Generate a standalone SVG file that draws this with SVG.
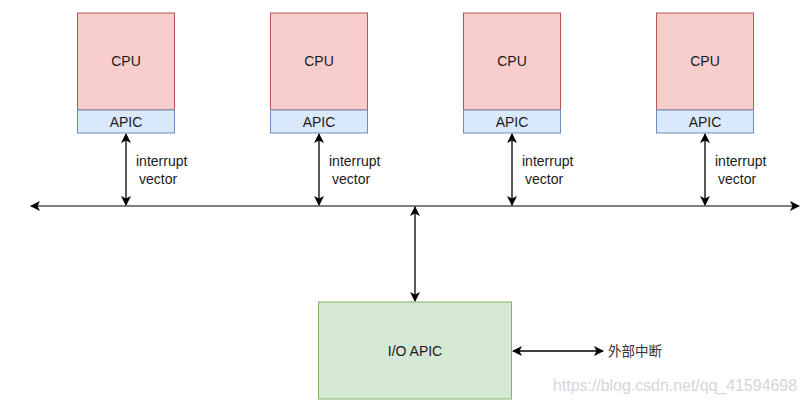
<svg xmlns="http://www.w3.org/2000/svg" width="806" height="404" viewBox="0 0 806 404">
<style>
.cpu{fill:#f8cecc;stroke:#b85450;stroke-width:1}
.apic{fill:#dae8fc;stroke:#6c8ebf;stroke-width:1}
.io{fill:#d5e8d4;stroke:#82b366;stroke-width:1}
.t{font-family:"Liberation Sans",Arial,sans-serif;font-size:14px;fill:#1a1a1a}
.c{text-anchor:middle}
.ln{stroke:#000;stroke-width:1.3;fill:none}
.bus{stroke:#555;stroke-width:1.5;fill:none}
</style>
<defs>
<marker id="ah" viewBox="0 0 10 10" refX="9" refY="5" markerWidth="10" markerHeight="10" markerUnits="userSpaceOnUse" orient="auto-start-reverse">
<path d="M0,0 L10,5 L0,10 L2.5,5 Z" fill="#000"/>
</marker>
</defs>
<rect width="806" height="404" fill="#fff"/>
<g id="connectors">
<line class="bus" x1="31" y1="206" x2="799" y2="206" marker-start="url(#ah)" marker-end="url(#ah)"/>
<line class="ln" x1="126" y1="134" x2="126" y2="205" marker-start="url(#ah)" marker-end="url(#ah)"/>
<line class="ln" x1="319" y1="134" x2="319" y2="205" marker-start="url(#ah)" marker-end="url(#ah)"/>
<line class="ln" x1="512" y1="134" x2="512" y2="205" marker-start="url(#ah)" marker-end="url(#ah)"/>
<line class="ln" x1="705" y1="134" x2="705" y2="205" marker-start="url(#ah)" marker-end="url(#ah)"/>
<line class="ln" x1="415" y1="207" x2="415" y2="301" marker-start="url(#ah)" marker-end="url(#ah)"/>
<line class="ln" x1="513" y1="351" x2="603" y2="351" marker-start="url(#ah)" marker-end="url(#ah)"/>
<text class="t" x="136" y="166">interrupt</text><text class="t" x="139" y="184">vector</text>
<text class="t" x="329" y="166">interrupt</text><text class="t" x="332" y="184">vector</text>
<text class="t" x="522" y="166">interrupt</text><text class="t" x="525" y="184">vector</text>
<text class="t" x="715" y="166">interrupt</text><text class="t" x="718" y="184">vector</text>
<text x="608" y="356" style="font-family:'Noto Sans CJK SC',sans-serif;font-size:13.5px;fill:#333">外部中断</text>
</g>
<g id="cpu1"><rect class="cpu" x="77.5" y="13" width="97" height="97"/><text class="t c" x="126" y="66">CPU</text></g>
<g id="apic1"><rect class="apic" x="77.5" y="110" width="97" height="23"/><text class="t c" x="126" y="127">APIC</text></g>
<g id="cpu2"><rect class="cpu" x="270.5" y="13" width="97" height="97"/><text class="t c" x="319" y="66">CPU</text></g>
<g id="apic2"><rect class="apic" x="270.5" y="110" width="97" height="23"/><text class="t c" x="319" y="127">APIC</text></g>
<g id="cpu3"><rect class="cpu" x="463.5" y="13" width="97" height="97"/><text class="t c" x="512" y="66">CPU</text></g>
<g id="apic3"><rect class="apic" x="463.5" y="110" width="97" height="23"/><text class="t c" x="512" y="127">APIC</text></g>
<g id="cpu4"><rect class="cpu" x="656.5" y="13" width="97" height="97"/><text class="t c" x="705" y="66">CPU</text></g>
<g id="apic4"><rect class="apic" x="656.5" y="110" width="97" height="23"/><text class="t c" x="705" y="127">APIC</text></g>
<g id="ioapic"><rect class="io" x="318.5" y="302" width="193" height="97"/><text class="t c" x="415" y="356">I/O APIC</text></g>
<text x="553" y="391" textLength="244" lengthAdjust="spacingAndGlyphs" style="font-family:'Liberation Sans',Arial,sans-serif;font-size:16px;fill:#d6d6d6">https://blog.csdn.net/qq_41594698</text>
</svg>
